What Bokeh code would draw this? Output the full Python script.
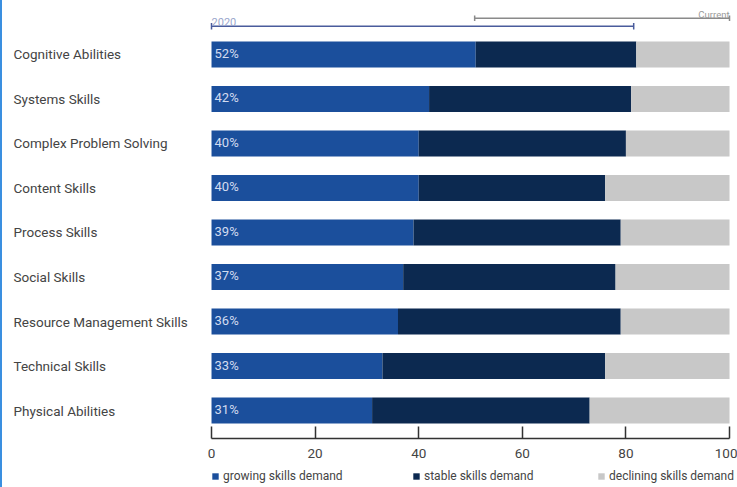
from bokeh.plotting import figure
from bokeh.models import (ColumnDataSource, Range1d, FixedTicker, Legend, LegendItem, Div)
from bokeh.layouts import row, column
from bokeh.core.properties import value
from bokeh.embed import file_html
from bokeh.resources import INLINE

# ---------------- data ----------------
categories = ["Cognitive Abilities", "Systems Skills", "Complex Problem Solving",
              "Content Skills", "Process Skills", "Social Skills",
              "Resource Management Skills", "Technical Skills", "Physical Abilities"]
growing = [51, 42, 40, 40, 39, 37, 36, 33, 31]
growing_labels = ["52%", "42%", "40%", "40%", "39%", "37%", "36%", "33%", "31%"]
stable = [31, 39, 40, 36, 40, 41, 43, 43, 42]
declining = [18, 19, 20, 24, 21, 22, 21, 24, 27]
series_names = ["growing skills demand", "stable skills demand", "declining skills demand"]
x_ticks = [0, 20, 40, 60, 80, 100]
period_labels = ["2020", "Current"]
period_start = [0, 50.8]
period_end = [81.5, 100]

# ---------------- style ----------------
FONT = "Roboto"
colors = ["#1b4f9c", "#0c2950", "#c8c8c8"]
PX_Y = 44.5     # px per category
Y_TOP = 9.213

def ypx(px):  # screen px from top of frame -> data y
    return Y_TOP - px / PX_Y

n = len(categories)
ypos = list(range(n - 1, -1, -1))

src = ColumnDataSource(dict(y=ypos, cat=categories, growing=growing, stable=stable,
                            declining=declining, glabel=growing_labels))

xr = Range1d(-40.35, 101.54)
p = figure(width=735, height=466, x_range=xr,
           y_range=Range1d(-0.629, Y_TOP), output_backend="svg",
           toolbar_location=None, y_axis_location=None, x_axis_location="below",
           min_border=0, min_border_bottom=28)
p.grid.visible = False
p.outline_line_color = None

rs = p.hbar_stack(["growing", "stable", "declining"], y="y", height=0.58,
                  color=colors, line_width=0, source=src)

# category labels (left aligned)
p.text(x=-38.22, y="y", text="cat", source=src, text_font=value(FONT),
       text_font_size="13.5px", text_color="#444444", text_baseline="middle",
       text_align="left")
# percentage labels
p.text(x=0, y="y", text="glabel", source=src, x_offset=3, y_offset=-1,
       text_font=value(FONT), text_font_size="13px", text_color="#d2dcf0",
       text_baseline="middle", text_align="left")

# period brackets at the top
line_y = [ypx(25.7), ypx(17.8)]
cap_half = [3.3 / PX_Y, 2.8 / PX_Y]
line_colors = ["#4a5c9c", "#8a8a8a"]
text_colors = ["#9aa6cc", "#9a9a9a"]
for i in range(2):
    p.segment(x0=[period_start[i]], x1=[period_end[i]], y0=[line_y[i]], y1=[line_y[i]],
              line_color=line_colors[i], line_width=1.5)
    p.segment(x0=[period_start[i], period_end[i]], x1=[period_start[i], period_end[i]],
              y0=[line_y[i] - cap_half[i]] * 2, y1=[line_y[i] + cap_half[i]] * 2,
              line_color=line_colors[i], line_width=1.5)
p.text(x=[period_start[0]], y=[ypx(21.5)], text=[period_labels[0]],
       text_font=value(FONT), text_font_size="11px", text_color=text_colors[0],
       text_align="left", text_baseline="alphabetic")
p.text(x=[period_end[1]], y=[ypx(13.5)], text=[period_labels[1]],
       text_font=value(FONT), text_font_size="9.5px", text_color=text_colors[1],
       text_align="right", text_baseline="alphabetic")

# x axis
ax = p.xaxis[0]
ax.bounds = (0, 100)
ax.ticker = FixedTicker(ticks=x_ticks)
ax.minor_tick_line_color = None
ax.major_tick_in = 12
ax.major_tick_out = 0
ax.axis_line_color = "#333333"
ax.axis_line_width = 1.5
ax.major_tick_line_color = "#333333"
ax.major_tick_line_width = 1.5
ax.major_label_standoff = 10
ax.major_label_text_font = FONT
ax.major_label_text_font_size = "13.5px"
ax.major_label_text_color = "#444444"

# legend strip below the axis (swatch renderers kept outside the visible range)
lf = figure(width=735, height=21, x_range=xr, y_range=Range1d(0, 1),
            output_backend="svg", toolbar_location=None, x_axis_location=None,
            y_axis_location=None, min_border=0)
lf.grid.visible = False
lf.outline_line_color = None
legend_x = [209, 410, 595]
for i in range(3):
    r = lf.hbar(y=[-5], left=[0], right=[1], height=0.5, color=colors[i], line_width=0)
    lg = Legend(items=[LegendItem(label=series_names[i], renderers=[r])],
                location=(legend_x[i], 4), glyph_width=8, glyph_height=8,
                label_standoff=4, padding=0, margin=0, border_line_color=None,
                background_fill_alpha=0, label_text_font=FONT,
                label_text_font_size="12px", label_text_color="#444444",
                label_height=12)
    lf.add_layout(lg, "center")

edge = Div(width=2, height=487, margin=0, styles={"background-color": "#3a8fe0"})
layout = row(edge, column(p, lf, spacing=0), spacing=0)

open("out.html", "w").write(file_html(layout, INLINE))
